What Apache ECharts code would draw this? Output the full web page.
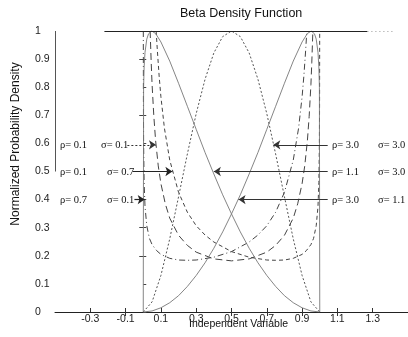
<!DOCTYPE html>
<html><head><meta charset="utf-8">
<script src="https://cdn.jsdelivr.net/npm/echarts@6/dist/echarts.min.js"></script>
<style>html,body{margin:0;padding:0;background:#fff}#c{width:408px;height:337px}</style>
</head><body><div id="c"></div>
<script>
// Beta parameters of the six curves
const rho   = [0.1, 0.7, 0.1, 3.0, 1.1, 3.0];
const sigma = [0.1, 0.1, 0.7, 3.0, 3.0, 1.1];

// Tick labels
const xTicks = [-0.3, -0.1, 0.1, 0.3, 0.5, 0.7, 0.9, 1.1, 1.3];
const yTicks = [0, 0.1, 0.2, 0.3, 0.4, 0.5, 0.6, 0.7, 0.8, 0.9, 1];

// Curves: [x, normalized density]
const curveP01S01 = [[0.039,1.0],[0.045,0.889],[0.05,0.81],[0.06,0.696],[0.07,0.61],[0.085,0.52],[0.1,0.457],[0.125,0.385],[0.15,0.334],[0.2,0.273],[0.25,0.237],[0.3,0.213],[0.4,0.189],[0.5,0.182],[0.6,0.189],[0.7,0.213],[0.75,0.237],[0.8,0.273],[0.85,0.334],[0.875,0.385],[0.9,0.457],[0.915,0.52],[0.93,0.61],[0.94,0.696],[0.95,0.81],[0.955,0.889],[0.961,1.0]];
const curveP07S01 = [[0.0003,1.0],[0.001,0.745],[0.002,0.60],[0.005,0.46],[0.01,0.375],[0.02,0.307],[0.035,0.262],[0.05,0.24],[0.075,0.219],[0.1,0.205],[0.15,0.191],[0.2,0.185],[0.25,0.184],[0.3,0.185],[0.4,0.195],[0.5,0.215],[0.6,0.249],[0.65,0.274],[0.7,0.307],[0.75,0.355],[0.8,0.426],[0.85,0.541],[0.88,0.654],[0.9,0.766],[0.91,0.84],[0.92,0.93],[0.927,1.0]];
const curveP01S07 = [[0.073,1.0],[0.08,0.93],[0.09,0.84],[0.1,0.766],[0.12,0.654],[0.15,0.541],[0.2,0.426],[0.25,0.355],[0.3,0.307],[0.35,0.274],[0.4,0.249],[0.5,0.215],[0.6,0.195],[0.7,0.185],[0.75,0.184],[0.8,0.185],[0.85,0.191],[0.9,0.205],[0.925,0.219],[0.95,0.24],[0.965,0.262],[0.98,0.307],[0.99,0.375],[0.995,0.46],[0.998,0.60],[0.999,0.745],[0.9997,1.0]];
const curveP30S30 = [[0,0],[0.05,0.036],[0.1,0.13],[0.15,0.26],[0.2,0.41],[0.25,0.5625],[0.3,0.706],[0.35,0.828],[0.4,0.922],[0.45,0.98],[0.5,1],[0.55,0.98],[0.6,0.922],[0.65,0.828],[0.7,0.706],[0.75,0.5625],[0.8,0.41],[0.85,0.26],[0.9,0.13],[0.95,0.036],[1,0]];
const curveP11S30 = [[0,0],[0.002,0.80],[0.005,0.872],[0.01,0.924],[0.02,0.971],[0.03,0.990],[0.048,1.0],[0.07,0.991],[0.1,0.961],[0.15,0.893],[0.2,0.814],[0.25,0.732],[0.3,0.65],[0.35,0.568],[0.4,0.491],[0.45,0.417],[0.5,0.349],[0.55,0.285],[0.6,0.227],[0.65,0.175],[0.7,0.130],[0.75,0.091],[0.8,0.058],[0.85,0.033],[0.9,0.015],[0.95,0.0037],[1,0]];
const curveP30S11 = [[0,0],[0.05,0.0037],[0.1,0.015],[0.15,0.033],[0.2,0.058],[0.25,0.091],[0.3,0.130],[0.35,0.175],[0.4,0.227],[0.45,0.285],[0.5,0.349],[0.55,0.417],[0.6,0.491],[0.65,0.568],[0.7,0.65],[0.75,0.732],[0.8,0.814],[0.85,0.893],[0.9,0.961],[0.93,0.991],[0.952,1.0],[0.97,0.990],[0.98,0.971],[0.99,0.924],[0.995,0.872],[0.998,0.80],[1,0]];

// Annotation arrows (rows and where they point)
const arrowRows   = [0.595, 0.5, 0.4];
const leftFrom    = [-0.09, -0.06, -0.05];
const leftTo      = [0.072, 0.165, 0.008];
const rightFrom   = [1.045, 1.045, 1.045];
const rightTo     = [0.737, 0.40, 0.54];

const fmt = v => v.toFixed(1);
const chart = echarts.init(document.getElementById('c'), null, {renderer: 'canvas'});

const GL = 55, GT = 31, GW = 354, GH = 281;
const sansLabel = {fontFamily: 'Liberation Sans', fontSize: 10.5, color: '#222'};

function curve(data, dash, color, width) {
  return {
    type: 'line', data: data, showSymbol: false, smooth: false,
    xAxisIndex: 0, yAxisIndex: 0, animation: false, silent: true,
    lineStyle: {color: color, width: width, type: dash}
  };
}

const series = [
  curve(curveP01S01, [7, 4], '#444', 1),
  curve(curveP07S01, [6, 3, 1, 3], '#444', 1),
  curve(curveP01S07, [4, 3], '#444', 1),
  curve(curveP30S30, [2, 2], '#555', 1),
  curve(curveP11S30, 'solid', '#777', 0.9),
  curve(curveP30S11, 'solid', '#777', 0.9)
];

const arrowLines = [];
const leftStyles = [{color: '#333', width: 1, type: [2, 2]}, {color: '#222', width: 1.2, type: 'solid'}, {color: '#222', width: 1.2, type: 'solid'}];
for (let i = 0; i < 3; i++) {
  arrowLines.push([
    {coord: [leftFrom[i], arrowRows[i]], symbol: 'none', lineStyle: leftStyles[i]},
    {coord: [leftTo[i], arrowRows[i]], symbol: 'arrow', symbolSize: 7}
  ]);
  arrowLines.push([
    {coord: [rightFrom[i], arrowRows[i]], symbol: 'none', lineStyle: {color: '#333', width: 1.1, type: 'solid'}},
    {coord: [rightTo[i], arrowRows[i]], symbol: 'arrow', symbolSize: 7}
  ]);
}
// frame pieces: top line and partial left axis line
arrowLines.push([{coord: [-0.22, 1], symbol: 'none', lineStyle: {color: '#222', width: 1, type: 'solid'}}, {coord: [1.27, 1], symbol: 'none'}]);
arrowLines.push([{coord: [1.27, 1], symbol: 'none', lineStyle: {color: '#999', width: 1, type: [1, 3]}}, {coord: [1.42, 1], symbol: 'none'}]);
arrowLines.push([{coord: [-0.5, 0.5], symbol: 'none', lineStyle: {color: '#555', width: 1, type: 'solid'}}, {coord: [-0.5, 1], symbol: 'none'}]);

series[0].markLine = {silent: true, animation: false, label: {show: false}, emphasis: {disabled: true}, symbol: ['none', 'none'], data: arrowLines};

const serif = {fontFamily: 'Liberation Serif', fontSize: 10.5, fill: '#111'};
const rowPx = [145, 172, 200];
const leftOrder = [0, 2, 1];   // rows: (0.1,0.1), (0.1,0.7), (0.7,0.1)
const rightOrder = [3, 4, 5];  // rows: (3,3), (1.1,3), (3,1.1)
const sigLeftX = [101, 107, 107];
const graphics = [
  {type: 'text', left: 180, top: 7, style: {text: 'Beta Density Function', fontFamily: 'Liberation Sans', fontSize: 12.5, fill: '#111'}},
  {type: 'text', left: 189, top: 319, style: {text: 'Independent Variable', fontFamily: 'Liberation Sans', fontSize: 10.5, fill: '#111'}},
  {type: 'text', x: 16, y: 144, rotation: Math.PI / 2, style: {text: 'Normalized Probability Density', fontFamily: 'Liberation Sans', fontSize: 12, fill: '#111', align: 'center', verticalAlign: 'middle'}}
];
for (let i = 0; i < 3; i++) {
  const l = leftOrder[i], r = rightOrder[i];
  graphics.push({type: 'text', x: 60, y: rowPx[i], style: Object.assign({text: 'ρ= ' + fmt(rho[l]), verticalAlign: 'middle'}, serif)});
  graphics.push({type: 'text', x: sigLeftX[i], y: rowPx[i], style: Object.assign({text: 'σ= ' + fmt(sigma[l]), verticalAlign: 'middle'}, serif)});
  graphics.push({type: 'text', x: 332, y: rowPx[i], style: Object.assign({text: 'ρ= ' + fmt(rho[r]), verticalAlign: 'middle'}, serif)});
  graphics.push({type: 'text', x: 378, y: rowPx[i], style: Object.assign({text: 'σ= ' + fmt(sigma[r]), verticalAlign: 'middle'}, serif)});
}

chart.setOption({
  backgroundColor: '#fff',
  animation: false,
  grid: {left: GL, top: GT, width: GW, height: GH, containLabel: false},
  xAxis: [
    {type: 'value', min: -0.5, max: 1.5, position: 'bottom',
     axisLine: {show: true, lineStyle: {color: '#222', width: 1}},
     axisTick: {show: true, inside: true, length: 4, customValues: xTicks, lineStyle: {color: '#333'}},
     axisLabel: Object.assign({show: true, margin: 2, customValues: xTicks, formatter: v => String(v)}, sansLabel),
     splitLine: {show: false}},
    {type: 'value', min: -0.5, max: 1.5, position: 'top',
     axisLine: {show: false},
     axisTick: {show: true, inside: true, length: 4, customValues: [-0.1, 0.5, 0.7, 0.9, 1.1], lineStyle: {color: '#333'}},
     axisLabel: {show: false}, splitLine: {show: false}}
  ],
  yAxis: [
    {type: 'value', min: 0, max: 1, position: 'left',
     axisLine: {show: false},
     axisTick: {show: true, inside: true, length: 3, customValues: yTicks, lineStyle: {color: '#444'}},
     axisLabel: Object.assign({show: true, margin: 20, align: 'left', customValues: yTicks, formatter: v => String(v)}, sansLabel),
     splitLine: {show: false}},
    {type: 'value', min: 0, max: 1, position: 'right',
     axisLine: {show: false},
     axisTick: {show: true, inside: true, length: 4, customValues: [0.2, 0.3, 0.7, 0.9], lineStyle: {color: '#444'}},
     axisLabel: {show: false}, splitLine: {show: false}}
  ],
  graphic: graphics,
  series: series
});
</script></body></html>
